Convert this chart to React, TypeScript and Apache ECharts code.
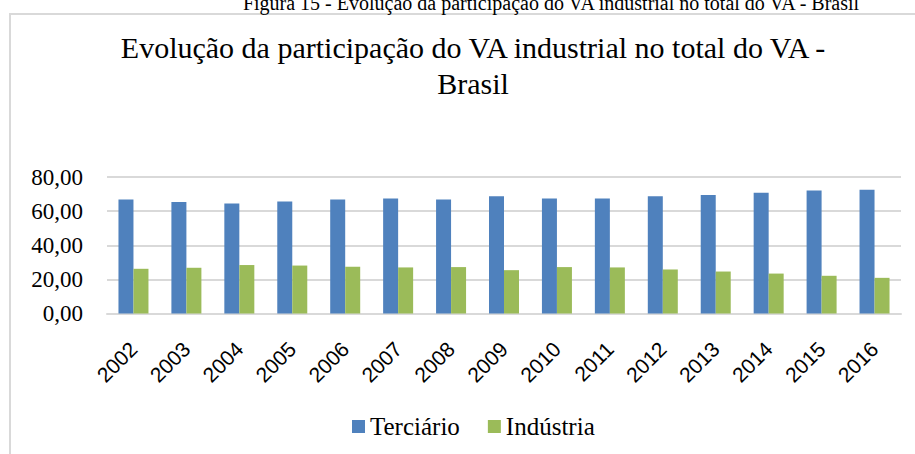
import React, { useEffect, useRef } from "react";
import * as echarts from "echarts";

const years = ["2002","2003","2004","2005","2006","2007","2008","2009","2010","2011","2012","2013","2014","2015","2016"];
const terciario = [66.8, 65.4, 64.4, 65.6, 66.8, 67.4, 66.8, 68.7, 67.4, 67.4, 68.7, 69.5, 70.7, 72.1, 72.6];
const industria = [26.2, 26.8, 28.4, 28.1, 27.4, 27.0, 27.2, 25.4, 27.2, 27.0, 25.8, 24.6, 23.4, 22.1, 20.9];
const yTicks = { min: 0, max: 80, interval: 20 };

export default function App() {
  const ref = useRef<HTMLDivElement>(null);
  useEffect(() => {
    if (!ref.current) return;
    const chart = echarts.init(ref.current, null, { renderer: "svg" });
    chart.setOption({
      animation: false,
      backgroundColor: "#ffffff",
      graphic: [
        {
          type: "rect",
          shape: { x: 10, y: 14, width: 940, height: 480 },
          style: { fill: "none", stroke: "#d9d9d9", lineWidth: 2 },
          silent: true,
        },
        {
          type: "text",
          x: 551,
          y: 13,
          style: {
            text: "Figura 15 - Evolução da participação do VA industrial no total do VA - Brasil",
            font: "20px 'Liberation Serif'",
            fill: "#000",
            textAlign: "center",
            textVerticalAlign: "bottom",
          },
          silent: true,
        },
      ],
      title: {
        text: "Evolução da participação do VA industrial no total do VA -\nBrasil",
        left: 468,
        top: 24,
        textAlign: "center",
        textStyle: {
          fontFamily: "Liberation Serif",
          fontSize: 30,
          fontWeight: "normal",
          color: "#000",
          lineHeight: 36,
        },
      },
      legend: {
        data: ["Terciário", "Indústria"],
        left: 347,
        top: 409,
        icon: "rect",
        itemWidth: 13,
        itemHeight: 13,
        itemGap: 28,
        textStyle: { fontFamily: "Liberation Serif", fontSize: 25, color: "#000" },
      },
      grid: { left: 107, right: 14, top: 177, bottom: 140.5, containLabel: false },
      xAxis: {
        type: "category",
        data: years,
        axisTick: { show: false },
        axisLine: { show: true, lineStyle: { color: "#d9d9d9", width: 2 } },
        axisLabel: {
          rotate: 45,
          margin: 32,
          fontFamily: "Liberation Sans",
          fontSize: 21,
          color: "#000",
          interval: 0,
        },
      },
      yAxis: {
        type: "value",
        min: yTicks.min,
        max: yTicks.max,
        interval: yTicks.interval,
        axisLine: { show: false },
        axisTick: { show: false },
        splitLine: { lineStyle: { color: "#d9d9d9", width: 2 } },
        axisLabel: {
          margin: 24,
          fontFamily: "Liberation Serif",
          fontSize: 23,
          color: "#000",
          formatter: (v: number) => v.toFixed(2).replace(".", ","),
        },
      },
      series: [
        {
          name: "Terciário",
          type: "bar",
          data: terciario,
          barWidth: 15,
          barGap: "0%",
          itemStyle: { color: "#4f81bd" },
        },
        {
          name: "Indústria",
          type: "bar",
          data: industria,
          barWidth: 15,
          barGap: "0%",
          itemStyle: { color: "#9bbb59" },
        },
      ],
    });
    return () => chart.dispose();
  }, []);
  return (
    <div
      ref={ref}
      style={{ position: "fixed", left: 0, top: 0, width: 915, height: 454 }}
    />
  );
}
